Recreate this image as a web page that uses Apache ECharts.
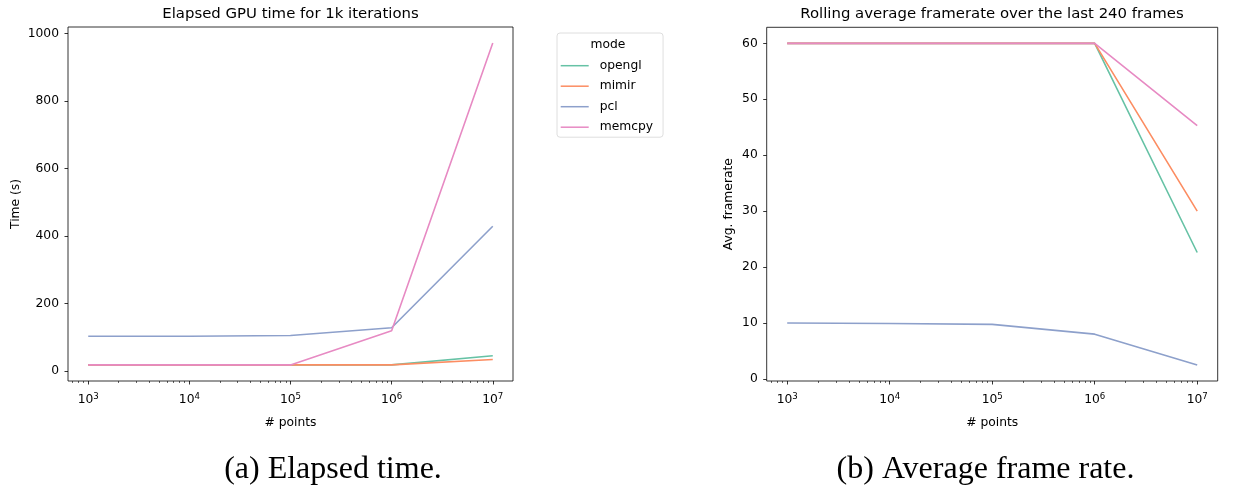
<!DOCTYPE html>
<html><head><meta charset="utf-8">
<script src="https://cdn.jsdelivr.net/npm/echarts@6/dist/echarts.min.js"></script>
<style>html,body{margin:0;padding:0;background:#fff}#c{width:1252px;height:491px}</style>
</head><body><div id="c"></div>
<script>
// ---- data ----
const modes = ['opengl', 'mimir', 'pcl', 'memcpy'];
const colors = ['#66c2a5', '#fc8d62', '#8da0cb', '#e78ac3'];
const points = [1e3, 1e4, 1e5, 1e6, 1e7];
const timeOpengl = [18, 18, 18, 18, 45];
const timeMimir  = [18, 18, 18, 18, 34];
const timePcl    = [103, 103, 105, 128, 429];
const timeMemcpy = [18, 18, 18, 119, 972];
const fpsOpengl = [60, 60, 60, 60, 22.6];
const fpsMimir  = [60, 60, 60, 60, 30.0];
const fpsPcl    = [10.0, 9.9, 9.75, 8.0, 2.5];
const fpsMemcpy = [60, 60, 60, 60, 45.3];
const xMajorTicks = [1e3, 1e4, 1e5, 1e6, 1e7];
const xMinorTicks = [700, 800, 900,
  2e3, 3e3, 4e3, 5e3, 6e3, 7e3, 8e3, 9e3,
  2e4, 3e4, 4e4, 5e4, 6e4, 7e4, 8e4, 9e4,
  2e5, 3e5, 4e5, 5e5, 6e5, 7e5, 8e5, 9e5,
  2e6, 3e6, 4e6, 5e6, 6e6, 7e6, 8e6, 9e6];
const timeTicks = [0, 200, 400, 600, 800, 1000];
const fpsTicks = [0, 10, 20, 30, 40, 50, 60];
const titles = ['Elapsed GPU time for 1k iterations', 'Rolling average framerate over the last 240 frames'];
const yNames = ['Time (s)', 'Avg. framerate'];
const xName = '# points';
const captions = ['(a) Elapsed time.', '(b) Average frame rate.'];
const legendTitle = 'mode';

// ---- layout ----
const FONT = 'DejaVu Sans';
const FS = 12.3;
const grids = [
  {left: 68, top: 27, width: 445, height: 354},
  {left: 766.7, top: 27.3, width: 451, height: 353.7}
];
const xMin = Math.pow(10, 2.8), xMax = Math.pow(10, 7.2);

function xAxes(gi) {
  return [{
    type: 'log', logBase: 10, gridIndex: gi, min: xMin, max: xMax, position: 'bottom',
    name: xName, nameLocation: 'middle', nameGap: 36,
    nameTextStyle: {fontFamily: FONT, fontSize: FS, color: '#000'},
    axisLine: {show: false, onZero: false}, splitLine: {show: false}, minorTick: {show: false},
    axisTick: {show: true, inside: false, length: 3.5, lineStyle: {color: '#000', width: 0.8}, customValues: xMajorTicks},
    axisLabel: {
      customValues: xMajorTicks, margin: 11,
      formatter: v => '{b|10}{s|' + Math.round(Math.log10(v)) + '}',
      rich: {
        b: {fontSize: FS, fontFamily: FONT, color: '#000'},
        s: {fontSize: 8.6, fontFamily: FONT, color: '#000', padding: [0, 0, 7, 0]}
      }
    }
  }, {
    type: 'log', logBase: 10, gridIndex: gi, min: xMin, max: xMax, position: 'bottom', offset: 0,
    axisLine: {show: false, onZero: false}, splitLine: {show: false}, axisLabel: {show: false},
    axisTick: {show: true, inside: false, length: 2, lineStyle: {color: '#000', width: 0.6}, customValues: xMinorTicks}
  }];
}
function yAxis(gi, min, max, ticks, name, gap) {
  return {
    type: 'value', gridIndex: gi, min: min, max: max, position: 'left',
    name: name, nameLocation: 'middle', nameGap: gap, nameRotate: 90,
    nameTextStyle: {fontFamily: FONT, fontSize: FS, color: '#000'},
    axisLine: {show: false, onZero: false}, splitLine: {show: false},
    axisTick: {show: true, inside: false, length: 3.5, lineStyle: {color: '#000', width: 0.8}, customValues: ticks},
    axisLabel: {customValues: ticks, margin: 9, fontSize: FS, fontFamily: FONT, color: '#000', formatter: v => String(v)}
  };
}
function pairs(ys) { return points.map((x, i) => [x, ys[i]]); }
function line(name, ys, xi, yi, color) {
  return {
    name: name, type: 'line', xAxisIndex: xi, yAxisIndex: yi, data: pairs(ys),
    showSymbol: false, symbol: 'none', lineStyle: {width: 1.6, color: color},
    itemStyle: {color: color}, animation: false, silent: true
  };
}
const timeSets = [timeOpengl, timeMimir, timePcl, timeMemcpy];
const fpsSets = [fpsOpengl, fpsMimir, fpsPcl, fpsMemcpy];
const series = [];
modes.forEach((m, i) => series.push(line(m, timeSets[i], 0, 0, colors[i])));
modes.forEach((m, i) => series.push(line(m, fpsSets[i], 2, 1, colors[i])));

function txt(text, x, y, size, family) {
  return {type: 'text', x: x, y: y, z: 100, zlevel: 1, silent: true,
    style: {text: text, x: 0, y: 0, fill: '#000', fontSize: size, fontFamily: family, align: 'center', verticalAlign: 'middle'}};
}

const chart = echarts.init(document.getElementById('c'), null, {renderer: 'canvas'});
chart.setOption({
  animation: false,
  backgroundColor: '#fff',
  color: colors,
  grid: grids.map(g => Object.assign({show: true, borderColor: '#000', borderWidth: 0.8, backgroundColor: 'transparent', containLabel: false}, g)),
  xAxis: xAxes(0).concat(xAxes(1)),
  yAxis: [
    yAxis(0, -29.7, 1019.7, timeTicks, yNames[0], 46),
    yAxis(1, -0.375, 62.875, fpsTicks, yNames[1], 32)
  ],
  legend: {
    orient: 'vertical', left: 557, top: 33, data: modes, icon: 'rect',
    itemWidth: 28, itemHeight: 1.5, itemGap: 6.5, padding: [25.7, 10, 3, 3.7],
    borderColor: '#d6d6d6', borderWidth: 0.8, borderRadius: 3, backgroundColor: '#fff',
    selectedMode: false,
    textStyle: {fontFamily: FONT, fontSize: FS, color: '#000', lineHeight: 14, padding: [0, 0, 0, 6]}
  },
  graphic: [
    txt(titles[0], 290.5, 14, 14.9, FONT),
    txt(titles[1], 992, 14, 14.9, FONT),
    txt(legendTitle, 608, 45, FS, FONT),
    txt(captions[0], 333, 470, 32, 'Liberation Serif'),
    txt(captions[1], 985.5, 470, 32, 'Liberation Serif')
  ],
  series: series
});
</script></body></html>
